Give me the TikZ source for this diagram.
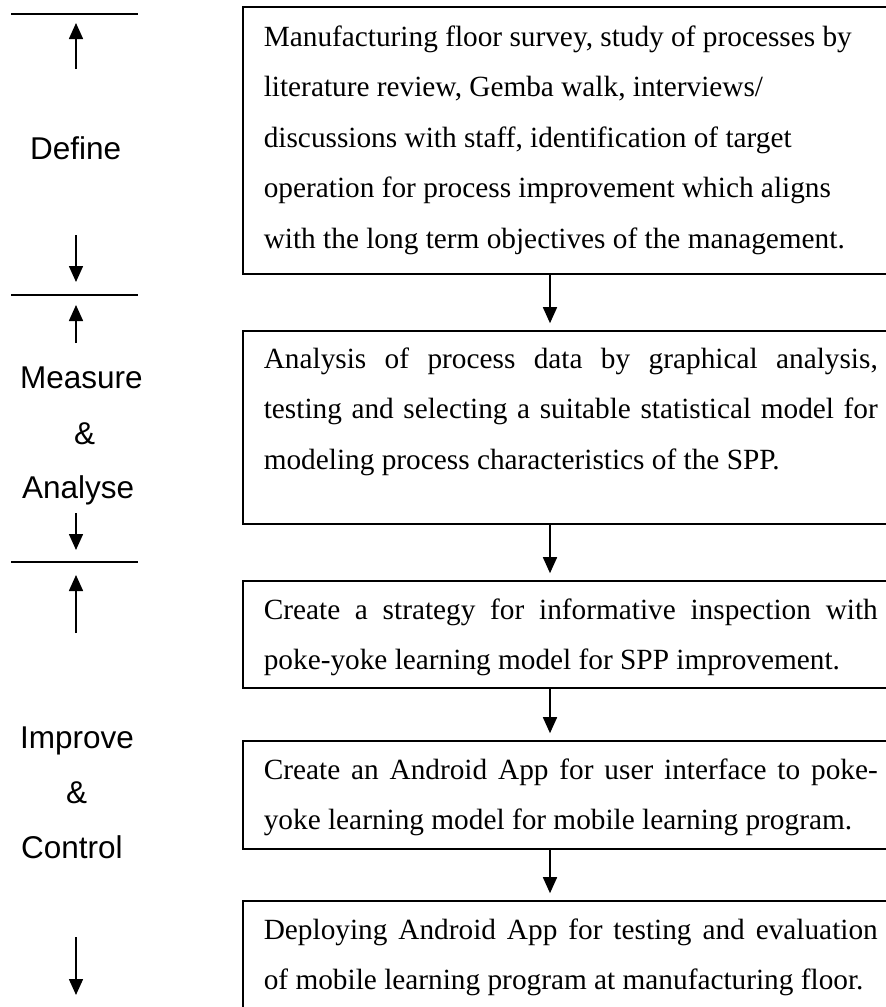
\documentclass[tikz,border=0pt]{standalone}
\usepackage{fontspec}
\setmainfont{Liberation Serif}
\newfontfamily\phasefont{Liberation Sans}
\usetikzlibrary{arrows.meta,calc}
\newcommand\justline[1]{\makebox[614pt][s]{#1}}
\begin{document}
\begin{tikzpicture}[x=1pt,y=-1pt,
  stepbox/.style={draw, line width=1.6pt, inner xsep=21pt, inner ysep=0pt, anchor=base west,
    font=\fontsize{29.3pt}{50.5pt}\selectfont},
  phase/.style={font=\phasefont\fontsize{31.5pt}{36pt}\selectfont, inner sep=0pt, anchor=base west},
  flow/.style={-{Triangle[length=16pt,width=14pt]}, line width=1.6pt},
  gap/.style={shorten >=7pt},
  sepline/.style={line width=1.6pt}]
\useasboundingbox (0,0) rectangle (886,1007);
\clip (0,0) rectangle (886,1007);

% process boxes
\node[stepbox, text height=39pt, text depth=228pt] (b1) at (242,46) {\parbox[t]{614pt}{%
Manufacturing floor survey, study of processes by\\
literature review, Gemba walk, interviews/\\
discussions with staff, identification of target\\
operation for process improvement which aligns\\
with the long term objectives of the management.}};

\node[stepbox, text height=37pt, text depth=156pt] (b2) at (242,368) {\parbox[t]{614pt}{%
\justline{Analysis of process data by graphical analysis,}\\
\justline{testing and selecting a suitable statistical model for}\\
modeling process characteristics of the SPP.}};

\node[stepbox, text height=38pt, text depth=69pt] (b3) at (242,619) {\parbox[t]{614pt}{%
\justline{Create a strategy for informative inspection with}\\
poke-yoke learning model for SPP improvement.}};

\node[stepbox, text height=38pt, text depth=70pt] (b4) at (242,779) {\parbox[t]{614pt}{%
\justline{Create an Android App for user interface to poke-}\\
yoke learning model for mobile learning program.}};

\node[stepbox, text height=38pt, text depth=120pt] (b5) at (242,939) {\parbox[t]{614pt}{%
\justline{Deploying Android App for testing and evaluation}\\
of mobile learning program at manufacturing floor.}};

\draw[flow, gap] ($(b1.south west)+(308,0)$) -- ($(b2.north west)+(308,0)$);
\draw[flow, gap] ($(b2.south west)+(308,0)$) -- ($(b3.north west)+(308,0)$);
\draw[flow, gap] ($(b3.south west)+(308,0)$) -- ($(b4.north west)+(308,0)$);
\draw[flow, gap] ($(b4.south west)+(308,0)$) -- ($(b5.north west)+(308,0)$);

% phase labels
\node[phase] (define) at (30,159) {Define};
\node[phase] (measure) at (20,388) {Measure};
\node[phase] (amp1) at (74,444) {\&};
\node[phase] (analyse) at (22,498) {Analyse};
\node[phase] (improve) at (20,748) {Improve};
\node[phase] (amp2) at (66,803) {\&};
\node[phase] (control) at (21,858) {Control};

% phase separators
\coordinate (s1a) at (11,14);  \coordinate (s1b) at (138,14);
\coordinate (s2a) at (11,295); \coordinate (s2b) at (138,295);
\coordinate (s3a) at (11,562); \coordinate (s3b) at (138,562);
\draw[sepline] (s1a) -- (s1b);
\draw[sepline] (s2a) -- (s2b);
\draw[sepline] (s3a) -- (s3b);

% phase arrows
\coordinate (u1t) at (76,69);  \coordinate (u1h) at (76,23);
\coordinate (d1t) at (76,235); \coordinate (d1h) at (76,282);
\coordinate (u2t) at (76,343); \coordinate (u2h) at (76,305);
\coordinate (d2t) at (76,513); \coordinate (d2h) at (76,550);
\coordinate (u3t) at (76,633); \coordinate (u3h) at (76,575);
\coordinate (d3t) at (76,937); \coordinate (d3h) at (76,995);
\draw[flow] (u1t) -- (u1h);
\draw[flow] (d1t) -- (d1h);
\draw[flow] (u2t) -- (u2h);
\draw[flow] (d2t) -- (d2h);
\draw[flow] (u3t) -- (u3h);
\draw[flow] (d3t) -- (d3h);
\end{tikzpicture}
\end{document}
